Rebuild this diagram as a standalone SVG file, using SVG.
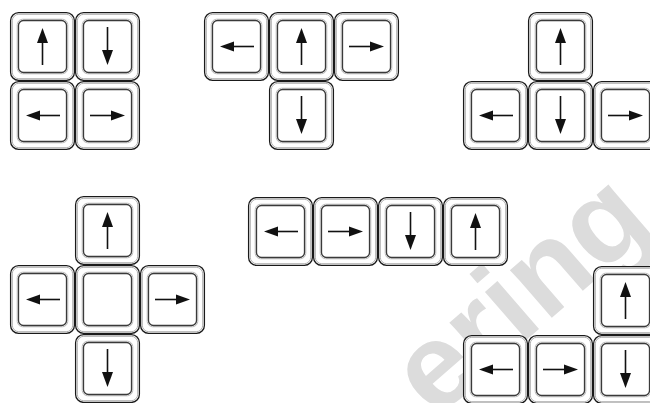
<svg xmlns="http://www.w3.org/2000/svg" xmlns:xlink="http://www.w3.org/1999/xlink" width="650" height="403" viewBox="0 0 650 403">
<style>
.o{fill:#fff;stroke:#1a1a1a;stroke-width:1.3}
.og{fill:none;stroke:#b0b0b0;stroke-width:1}
.ig{fill:none;stroke:#bdbdbd;stroke-width:1}
.i{fill:none;stroke:#3a3a3a;stroke-width:1.3}
.sh{stroke:#111;stroke-width:1.6;fill:none}
.hd{fill:#111;stroke:none}
.wm{font-family:"Liberation Sans",Arial,sans-serif;font-weight:bold;font-size:120px;fill:#dcdcdc}
</style>
<defs>
<g id="key">
<rect class="o" x="0.6" y="0.6" width="63.8" height="67.8" rx="8"/>
<rect class="og" x="2.3" y="2.3" width="60.4" height="64.4" rx="6.5"/>
<rect class="ig" x="7.2" y="7.2" width="50.6" height="54.6" rx="5.5"/>
<rect class="i" x="8.5" y="8.5" width="48" height="52" rx="5"/>
</g>
<g id="up"><path class="sh" d="M32.5,53V30"/><path class="hd" d="M32.5,16L27,31H38Z"/></g>
<g id="down"><path class="sh" d="M32.5,15V39"/><path class="hd" d="M32.5,53L27,38H38Z"/></g>
<g id="left"><path class="sh" d="M50,34.5H28"/><path class="hd" d="M16,34.5L30,29.5V39.5Z"/></g>
<g id="right"><path class="sh" d="M15,34.5H37"/><path class="hd" d="M50,34.5L36,29.5V39.5Z"/></g>
</defs>
<rect width="650" height="403" fill="#fff"/>
<g id="watermark" transform="translate(525,300) rotate(-41)">
<text class="wm" x="0" y="31" text-anchor="middle">ering</text>
</g>
<g id="connectors"></g>
<g id="c1">
<g id="c1-up" transform="translate(10,12)"><use href="#key"/><use href="#up"/></g>
<g id="c1-down" transform="translate(75,12)"><use href="#key"/><use href="#down"/></g>
<g id="c1-left" transform="translate(10,81)"><use href="#key"/><use href="#left"/></g>
<g id="c1-right" transform="translate(75,81)"><use href="#key"/><use href="#right"/></g>
</g>
<g id="c2">
<g id="c2-left" transform="translate(204,12)"><use href="#key"/><use href="#left"/></g>
<g id="c2-up" transform="translate(269,12)"><use href="#key"/><use href="#up"/></g>
<g id="c2-right" transform="translate(334,12)"><use href="#key"/><use href="#right"/></g>
<g id="c2-down" transform="translate(269,81)"><use href="#key"/><use href="#down"/></g>
</g>
<g id="c3">
<g id="c3-up" transform="translate(528,12)"><use href="#key"/><use href="#up"/></g>
<g id="c3-left" transform="translate(463,81)"><use href="#key"/><use href="#left"/></g>
<g id="c3-down" transform="translate(528,81)"><use href="#key"/><use href="#down"/></g>
<g id="c3-right" transform="translate(593,81)"><use href="#key"/><use href="#right"/></g>
</g>
<g id="c4">
<g id="c4-up" transform="translate(75,196)"><use href="#key"/><use href="#up"/></g>
<g id="c4-left" transform="translate(10,265)"><use href="#key"/><use href="#left"/></g>
<g id="c4-blank" transform="translate(75,265)"><use href="#key"/></g>
<g id="c4-right" transform="translate(140,265)"><use href="#key"/><use href="#right"/></g>
<g id="c4-down" transform="translate(75,334)"><use href="#key"/><use href="#down"/></g>
</g>
<g id="c5">
<g id="c5-left" transform="translate(248,197)"><use href="#key"/><use href="#left"/></g>
<g id="c5-right" transform="translate(313,197)"><use href="#key"/><use href="#right"/></g>
<g id="c5-down" transform="translate(378,197)"><use href="#key"/><use href="#down"/></g>
<g id="c5-up" transform="translate(443,197)"><use href="#key"/><use href="#up"/></g>
</g>
<g id="c6">
<g id="c6-up" transform="translate(593,266)"><use href="#key"/><use href="#up"/></g>
<g id="c6-left" transform="translate(463,335)"><use href="#key"/><use href="#left"/></g>
<g id="c6-right" transform="translate(528,335)"><use href="#key"/><use href="#right"/></g>
<g id="c6-down" transform="translate(593,335)"><use href="#key"/><use href="#down"/></g>
</g>
</svg>
